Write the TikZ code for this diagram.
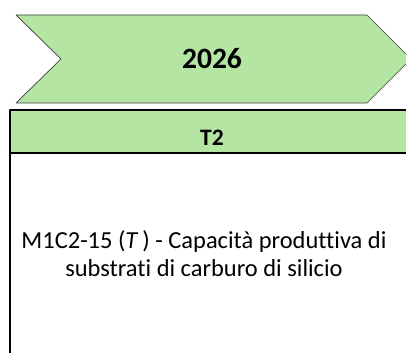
\documentclass[tikz,border=0pt]{standalone}
\usepackage{fontspec}
\setmainfont{Carlito}[Ligatures={NoCommon}]
\usepackage{tkz-euclide}
\definecolor{ArrowClr}{RGB}{181,229,163}
\definecolor{EdgeClr}{RGB}{60,60,60}

\begin{document}
\begin{tikzpicture}
\useasboundingbox (0,0) rectangle (10.15,8.825);
\clip (0,0) rectangle (10.15,8.825);

\tkzDefPoints{0.4/8.45/A,1.525/7.35/B,0.4/6.25/C,9.175/6.25/D,10.275/7.35/E,9.175/8.45/F}
\tkzDefPoints{0.25/6.075/P,10.6/6.075/Q,10.6/5/R,0.25/5/S,0.25/-0.5/U}

% year chevron
\tkzFillPolygon[fill=ArrowClr](A,B,C,D,E,F)
\tkzDrawPolygon[line width=0.5pt,color=EdgeClr](A,B,C,D,E,F)

% target box
\tkzFillPolygon[fill=ArrowClr](P,Q,R,S)
\tkzDrawSegments[line width=1.4pt,color=black](P,Q S,R P,U)

\node[font=\fontsize{21}{25}\selectfont\bfseries] (year) at (5.3,7.35) {2026};
\node[font=\fontsize{16.8}{19}\selectfont\bfseries] (head) at (5.3,5.39) {T2};
\node[font=\fontsize{17.4}{19.8}\selectfont,align=center] (target) at (5.1,2.49)
  {M1C2-15 (\textit{T}\,) - Capacità produttiva di\\substrati di carburo di silicio};

\end{tikzpicture}
\end{document}
